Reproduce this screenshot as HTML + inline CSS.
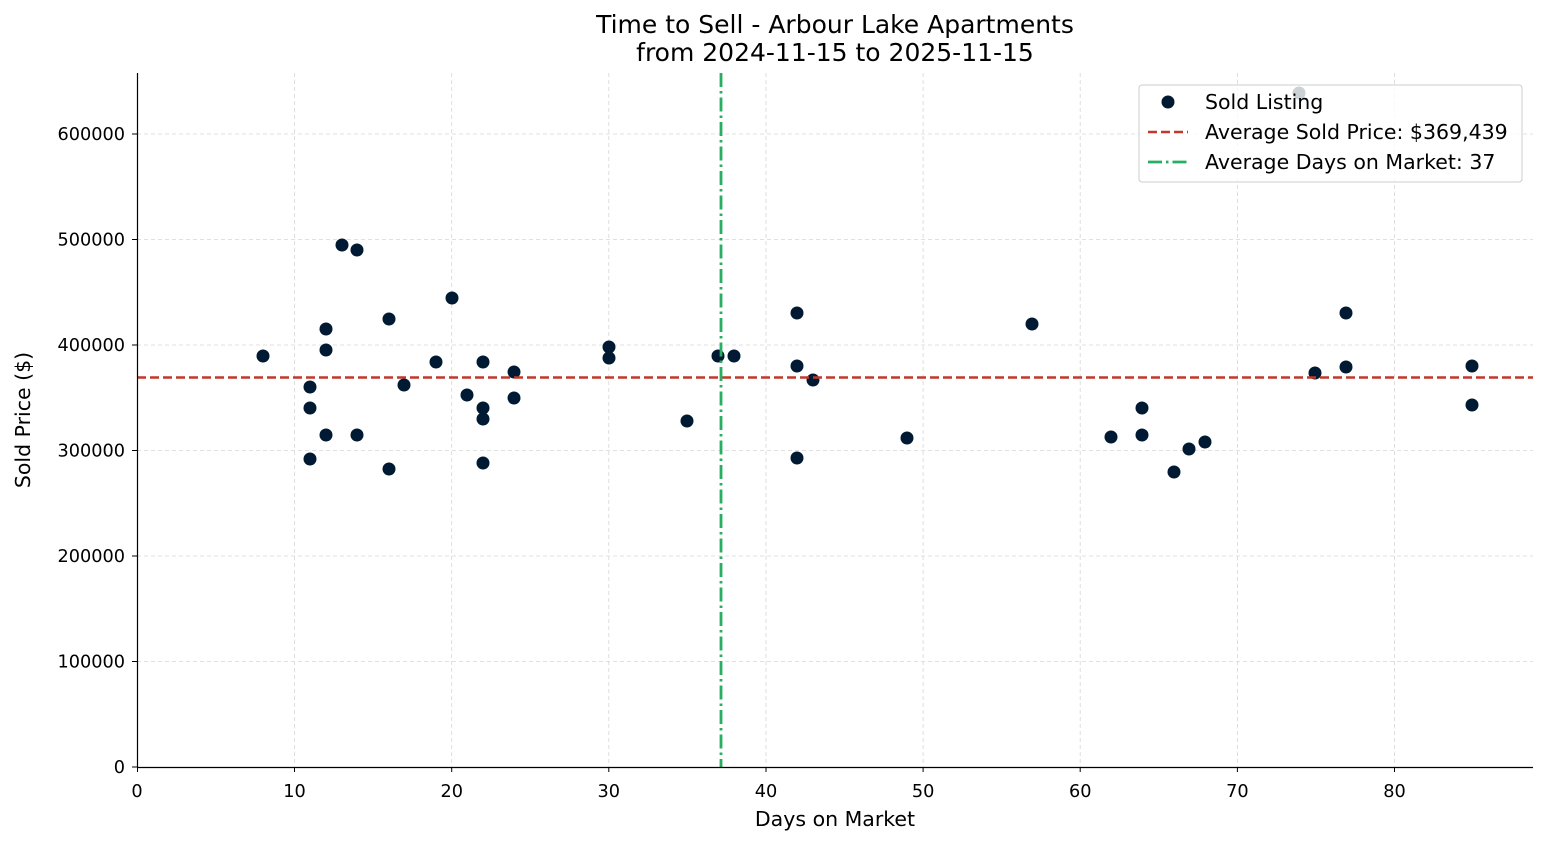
<!DOCTYPE html>
<html><head><meta charset="utf-8"><style>body{margin:0;background:#fff}svg{display:block}text{font-family:"DejaVu Sans","Liberation Sans",sans-serif;fill:#000}</style></head>
<body>
<svg width="1547" height="845" viewBox="0 0 1547 845" xmlns="http://www.w3.org/2000/svg">
<rect width="1547" height="845" fill="#fff"/>
<g stroke="#d6d6d6" stroke-width="0.8" stroke-dasharray="4,3">
<line x1="294.5" y1="73" x2="294.5" y2="767"/><line x1="451.7" y1="73" x2="451.7" y2="767"/><line x1="608.8" y1="73" x2="608.8" y2="767"/><line x1="766" y1="73" x2="766" y2="767"/><line x1="923.1" y1="73" x2="923.1" y2="767"/><line x1="1080.2" y1="73" x2="1080.2" y2="767"/><line x1="1237.4" y1="73" x2="1237.4" y2="767"/><line x1="1394.5" y1="73" x2="1394.5" y2="767"/>
<line x1="137" y1="661.5" x2="1533" y2="661.5"/><line x1="137" y1="556" x2="1533" y2="556"/><line x1="137" y1="450.5" x2="1533" y2="450.5"/><line x1="137" y1="345" x2="1533" y2="345"/><line x1="137" y1="239.5" x2="1533" y2="239.5"/><line x1="137" y1="134" x2="1533" y2="134"/>
</g>
<g fill="#011a33">
<circle cx="263" cy="356" r="6.5"/><circle cx="310" cy="387" r="6.5"/><circle cx="310" cy="408" r="6.5"/><circle cx="310" cy="459" r="6.5"/><circle cx="326" cy="329" r="6.5"/><circle cx="326" cy="350" r="6.5"/><circle cx="326" cy="435" r="6.5"/><circle cx="342" cy="245" r="6.5"/><circle cx="357" cy="250" r="6.5"/><circle cx="357" cy="435" r="6.5"/><circle cx="389" cy="319" r="6.5"/><circle cx="389" cy="469" r="6.5"/><circle cx="404" cy="385" r="6.5"/><circle cx="436" cy="362" r="6.5"/><circle cx="452" cy="298" r="6.5"/><circle cx="467" cy="395" r="6.5"/><circle cx="483" cy="362" r="6.5"/><circle cx="483" cy="408" r="6.5"/><circle cx="483" cy="419" r="6.5"/><circle cx="483" cy="463" r="6.5"/><circle cx="514" cy="372" r="6.5"/><circle cx="514" cy="398" r="6.5"/><circle cx="609" cy="347" r="6.5"/><circle cx="609" cy="358" r="6.5"/><circle cx="687" cy="421" r="6.5"/><circle cx="718" cy="356" r="6.5"/><circle cx="734" cy="356" r="6.5"/><circle cx="797" cy="313" r="6.5"/><circle cx="797" cy="366" r="6.5"/><circle cx="797" cy="458" r="6.5"/><circle cx="813" cy="380" r="6.5"/><circle cx="907" cy="438" r="6.5"/><circle cx="1032" cy="324" r="6.5"/><circle cx="1111" cy="437" r="6.5"/><circle cx="1142" cy="408" r="6.5"/><circle cx="1142" cy="435" r="6.5"/><circle cx="1174" cy="472" r="6.5"/><circle cx="1189" cy="449" r="6.5"/><circle cx="1205" cy="442" r="6.5"/><circle cx="1299" cy="93" r="6.5"/><circle cx="1315" cy="373" r="6.5"/><circle cx="1346" cy="313" r="6.5"/><circle cx="1346" cy="367" r="6.5"/><circle cx="1472" cy="366" r="6.5"/><circle cx="1472" cy="405" r="6.5"/>
</g>
<line x1="137" y1="377.5" x2="1533" y2="377.5" stroke="#c0392b" stroke-width="2.5" stroke-dasharray="9,4"/>
<line x1="721" y1="73" x2="721" y2="767" stroke="#27ae60" stroke-width="2.8" stroke-dasharray="14,4,2.5,4"/>
<g stroke="#000" stroke-width="1.2">
<line x1="137.5" y1="73" x2="137.5" y2="767.5"/><line x1="137" y1="767.5" x2="1533" y2="767.5"/>
</g>
<g stroke="#000" stroke-width="1">
<line x1="137.5" y1="767" x2="137.5" y2="772"/><line x1="294.5" y1="767" x2="294.5" y2="772"/><line x1="451.7" y1="767" x2="451.7" y2="772"/><line x1="608.8" y1="767" x2="608.8" y2="772"/><line x1="766" y1="767" x2="766" y2="772"/><line x1="923.1" y1="767" x2="923.1" y2="772"/><line x1="1080.2" y1="767" x2="1080.2" y2="772"/><line x1="1237.4" y1="767" x2="1237.4" y2="772"/><line x1="1394.5" y1="767" x2="1394.5" y2="772"/>
<line x1="132" y1="767" x2="137" y2="767"/><line x1="132" y1="661.5" x2="137" y2="661.5"/><line x1="132" y1="556" x2="137" y2="556"/><line x1="132" y1="450.5" x2="137" y2="450.5"/><line x1="132" y1="345" x2="137" y2="345"/><line x1="132" y1="239.5" x2="137" y2="239.5"/><line x1="132" y1="134" x2="137" y2="134"/>
</g>
<g font-size="17.7" text-anchor="middle">
<text x="137" y="797">0</text><text x="294.5" y="797">10</text><text x="451.7" y="797">20</text><text x="608.8" y="797">30</text><text x="766" y="797">40</text><text x="923.1" y="797">50</text><text x="1080.2" y="797">60</text><text x="1237.4" y="797">70</text><text x="1394.5" y="797">80</text>
</g>
<g font-size="17.7" text-anchor="end">
<text x="125" y="773">0</text><text x="125" y="667.5">100000</text><text x="125" y="562">200000</text><text x="125" y="456.5">300000</text><text x="125" y="351">400000</text><text x="125" y="245.5">500000</text><text x="125" y="140">600000</text>
</g>
<text x="835" y="826" font-size="20.5" text-anchor="middle">Days on Market</text>
<text transform="translate(30,420) rotate(-90)" font-size="20.5" text-anchor="middle">Sold Price ($)</text>
<text x="835" y="33" font-size="25" text-anchor="middle">Time to Sell - Arbour Lake Apartments</text>
<text x="835" y="61" font-size="25" text-anchor="middle">from 2024-11-15 to 2025-11-15</text>
<rect x="1139" y="85" width="383" height="97" rx="3" fill="#fff" fill-opacity="0.8" stroke="#ccc" stroke-width="1"/>
<circle cx="1168" cy="102" r="6.5" fill="#011a33"/>
<line x1="1148" y1="132" x2="1188" y2="132" stroke="#c0392b" stroke-width="2.5" stroke-dasharray="9,4"/>
<line x1="1148" y1="162" x2="1188" y2="162" stroke="#27ae60" stroke-width="2.8" stroke-dasharray="14,4,2.5,4"/>
<g font-size="20.5"><text x="1205" y="109">Sold Listing</text><text x="1205" y="139">Average Sold Price: $369,439</text><text x="1205" y="169">Average Days on Market: 37</text></g>
</svg>
</body></html>
